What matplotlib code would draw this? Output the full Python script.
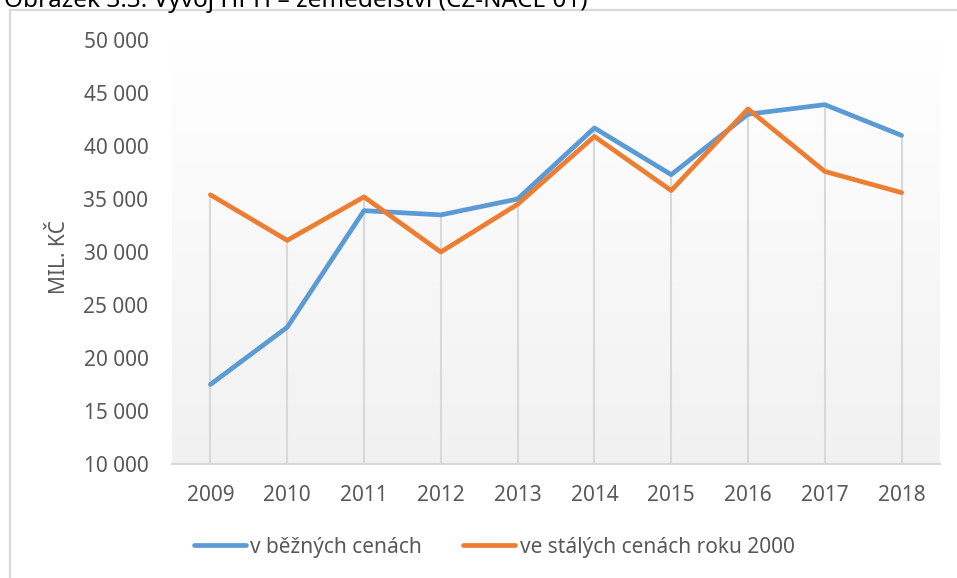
import numpy as np
import matplotlib
matplotlib.use("Agg")
import matplotlib.pyplot as plt
from matplotlib.ticker import FuncFormatter

# ============================================================
# Data
# ============================================================
years = [2009, 2010, 2011, 2012, 2013, 2014, 2015, 2016, 2017, 2018]
current_prices = [17500, 22900, 33900, 33500, 35000, 41700, 37300, 43000, 43900, 41000]
constant_prices = [35400, 31100, 35200, 30000, 34500, 40900, 35800, 43500, 37600, 35600]

series_labels = ["v běžných cenách", "ve stálých cenách roku 2000"]
y_ticks = [10000, 15000, 20000, 25000, 30000, 35000, 40000, 45000, 50000]
title = "Obrázek 3.3: Vývoj HPH – zemědělství (CZ-NACE 01)"
y_label = "MIL. KČ"

# ============================================================
# Style
# ============================================================
plt.rcParams['font.family'] = ['Noto Sans', 'DejaVu Sans']
text_grey = "#595959"
blue = "#5B9BD5"
orange = "#ED7D31"

W, H = 957, 578
fig = plt.figure(figsize=(W / 100, H / 100), dpi=100)

# chart frame (cut off at the right and bottom like the screenshot)
frame = plt.Rectangle((9.5 / W, -0.1), 1.2, 1 - 9.5 / H + 0.1,
                      transform=fig.transFigure, fill=False,
                      edgecolor="#d9d9d9", linewidth=1.6)
fig.add_artist(frame)

# title, only its lower part is visible in the screenshot
fig.text(4 / W, 1 - 7 / H, title, fontsize=17.5, fontweight="bold",
         color="black", va="baseline", ha="left")

left, right, bottom, top = 172 / W, 940 / W, 1 - 464 / H, 1 - 40 / H
ax = fig.add_axes([left, bottom, right - left, top - bottom])

x = np.arange(len(years))
ax.set_xlim(-0.5, len(years) - 0.5)
ax.set_ylim(10000, 50000)

# gradient plot area (white at top -> light grey at bottom)
grad = np.linspace(0, 1, 256).reshape(-1, 1)
ax.imshow(grad, cmap=matplotlib.colors.LinearSegmentedColormap.from_list(
    "g", ["#f1f1f1", "#ffffff"]), origin="lower", aspect="auto",
    extent=(-0.5, len(years) - 0.5, 10000, 50000), zorder=0)

# drop lines from the higher point down to the axis
tops = np.maximum(current_prices, constant_prices)
ax.vlines(x, 10000, tops, color="#d9d9d9", linewidth=1.5, zorder=1)

ax.plot(x, current_prices, color=blue, linewidth=3.4, solid_capstyle="round",
        label=series_labels[0], zorder=3)
ax.plot(x, constant_prices, color=orange, linewidth=3.4, solid_capstyle="round",
        label=series_labels[1], zorder=3)

for side in ["top", "right", "left"]:
    ax.spines[side].set_visible(False)
ax.spines["bottom"].set_color("#d9d9d9")
ax.spines["bottom"].set_linewidth(1.5)

ax.set_xticks(x)
ax.set_xticklabels([str(y) for y in years])
ax.set_yticks(y_ticks)
ax.yaxis.set_major_formatter(FuncFormatter(lambda v, p: f"{int(v):,}".replace(",", " ")))
ax.tick_params(axis="both", length=0, labelsize=15, labelcolor=text_grey)
ax.tick_params(axis="y", pad=17)
ax.tick_params(axis="x", pad=15)

fig.text(60 / W, 1 - 257 / H, y_label, rotation=90, fontsize=15,
         color=text_grey, ha="center", va="center")

leg = fig.legend(loc="center", bbox_to_anchor=(494 / W, 1 - 547 / H), ncol=2,
                 frameon=False, fontsize=15, handlelength=2.5,
                 handletextpad=0.2, columnspacing=2.0, labelcolor=text_grey)

plt.savefig("out.png", dpi=100)
